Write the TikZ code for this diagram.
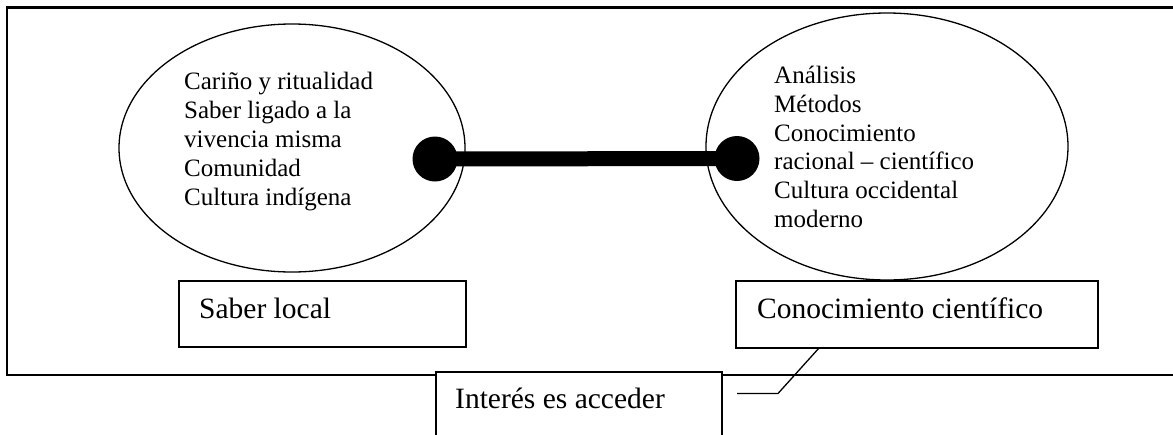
\documentclass[tikz,border=0pt]{standalone}
\usepackage{fontspec}
\setmainfont{Liberation Serif}
\usetikzlibrary{shapes.geometric}
\tikzset{
  frameline/.style={line width=2.2pt},
  oval/.style={ellipse, draw, line width=1.3pt, inner sep=0pt},
  labelbox/.style={rectangle, draw, line width=1.3pt, fill=white, inner sep=0pt},
  ovaltext/.style={anchor=north west, align=left, inner sep=0pt, font=\fontsize{25}{28.9}\selectfont},
  labeltext/.style={anchor=base west, inner sep=0pt, font=\fontsize{29.5}{34}\selectfont},
  dot/.style={circle, fill=black, inner sep=0pt, minimum size=45pt},
  bar/.style={line width=15pt},
  thinline/.style={line width=1.3pt}
}
\begin{document}
\begin{tikzpicture}[x=1pt,y=-1pt]
\useasboundingbox (0,0) rectangle (1173,434);
\clip (0,0) rectangle (1173,434);
% outer frame (open to the right)
\draw[frameline] (1200,7.5) -- (7,7.5) -- (7,375) -- (1200,375);
% ellipses
\node[oval, minimum width=346pt, minimum height=248pt] (le) at (292,148) {};
\node[oval, minimum width=362pt, minimum height=267pt] (re) at (887,146.5) {};
\node[ovaltext] (lt) at (184,69.5) {\rule{0pt}{20pt}Cariño y ritualidad\\Saber ligado a la\\vivencia misma\\Comunidad\\Cultura indígena};
\node[ovaltext] (rt) at (774,63) {\rule{0pt}{20pt}Análisis\\Métodos\\Conocimiento\\racional – científico\\Cultura occidental\\moderno};
% connection
\node[dot] (d1) at (435,159) {};
\node[dot] (d2) at (737,158.5) {};
\draw[bar] (d1.center) -- (d2.center);
% label boxes
\node[labelbox, minimum width=287pt, minimum height=66pt] (sl) at (322.5,314) {};
\node[labeltext] (slt) at (199,318) {Saber local};
\node[labelbox, minimum width=362pt, minimum height=67pt] (cc) at (917,314.5) {};
\node[labeltext] (cct) at (757,318) {Conocimiento científico};
\node[labelbox, minimum width=286pt, minimum height=76pt] (ia) at (579,410) {};
\node[labeltext] (iat) at (455,408) {Interés es acceder};
% callout connector
\coordinate (c1) at (819,348);
\coordinate (c2) at (778,393.5);
\coordinate (c3) at (737,393.5);
\draw[thinline] (c1) -- (c2) -- (c3);
\end{tikzpicture}
\end{document}
